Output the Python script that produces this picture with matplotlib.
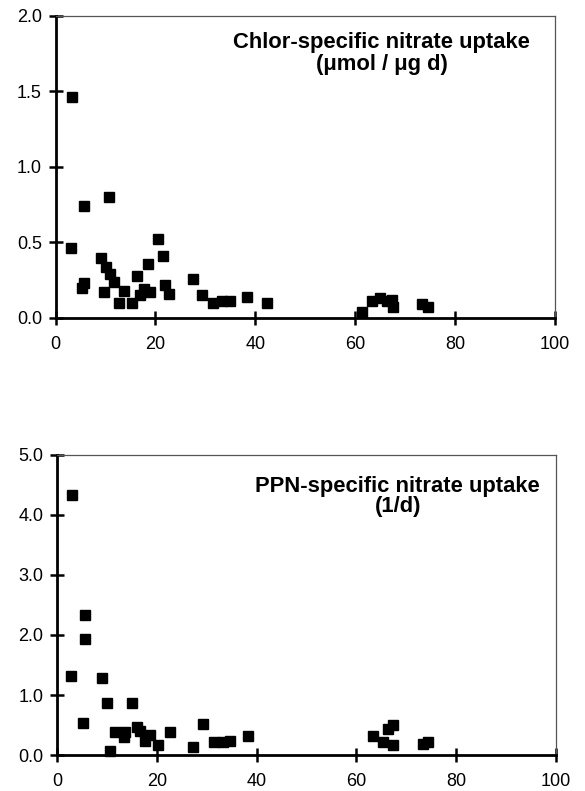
# Nitrate uptake scatter panels (chlor-specific and PPN-specific)

import numpy as np
import matplotlib.pyplot as plt

plt.rcParams['font.family'] = ['Liberation Sans', 'DejaVu Sans']

# Top panel data: chlor-specific nitrate uptake (umol / ug d)
chl_x = [3.2, 3.1, 5.8, 10.7, 5.4, 5.8, 9.2, 10.2, 9.7, 11.0, 11.8, 13.7, 12.8, 15.4,
         16.3, 16.9, 17.8, 18.5, 19.0, 20.5, 21.6, 21.9, 22.8, 27.5, 29.4, 31.5,
         33.3, 34.9, 38.3, 42.3, 61.3, 63.4, 65.0, 66.3, 67.5, 67.3, 73.3, 74.5]
chl_y = [1.46, 0.46, 0.74, 0.80, 0.20, 0.23, 0.40, 0.34, 0.17, 0.29, 0.24, 0.18, 0.10, 0.10,
         0.28, 0.15, 0.19, 0.36, 0.17, 0.52, 0.41, 0.22, 0.16, 0.26, 0.15, 0.10,
         0.11, 0.11, 0.14, 0.10, 0.04, 0.11, 0.13, 0.11, 0.07, 0.12, 0.09, 0.07]

# Bottom panel data: PPN-specific nitrate uptake (1/d)
ppn_x = [3.1, 2.9, 5.6, 5.6, 5.2, 9.0, 10.0, 10.7, 11.6, 13.6, 13.5, 15.1, 16.0, 16.7,
         17.6, 18.6, 20.3, 22.6, 27.3, 29.3, 31.5, 33.2, 34.6, 38.3,
         63.3, 65.4, 66.3, 67.3, 67.3, 73.4, 74.4]
ppn_y = [4.33, 1.31, 2.34, 1.94, 0.54, 1.29, 0.86, 0.07, 0.38, 0.38, 0.30, 0.86, 0.47, 0.40,
         0.24, 0.33, 0.16, 0.38, 0.14, 0.52, 0.21, 0.21, 0.24, 0.32,
         0.32, 0.22, 0.44, 0.50, 0.16, 0.19, 0.22]

fig = plt.figure(figsize=(5.85, 7.91), dpi=100)
ax1 = fig.add_axes([0.0949, 0.598, 0.854, 0.382])
ax2 = fig.add_axes([0.0974, 0.0455, 0.853, 0.3793])


def style(ax, ymax, yticks):
    ax.set_xlim(0, 100)
    ax.set_ylim(0, ymax)
    ax.set_xticks([0, 20, 40, 60, 80, 100])
    ax.set_yticks(yticks)
    ax.set_yticklabels(['{:.1f}'.format(t) for t in yticks])
    for s in ['left', 'bottom']:
        ax.spines[s].set_linewidth(2.0)
        ax.spines[s].set_color('black')
    for s in ['top', 'right']:
        ax.spines[s].set_linewidth(0.9)
        ax.spines[s].set_color('#555555')
    ax.tick_params(direction='inout', length=9.5, width=1.8, labelsize=13)
    ax.tick_params(axis='x', pad=8)
    ax.tick_params(axis='y', pad=5)


style(ax1, 2.0, [0.0, 0.5, 1.0, 1.5, 2.0])
ax1.plot(chl_x, chl_y, 's', color='black', ms=6.5, clip_on=False)
ax1.text(0.653, 0.893, 'Chlor-specific nitrate uptake', transform=ax1.transAxes,
         ha='center', va='baseline', fontsize=15.8, fontweight='bold')
ax1.text(0.653, 0.821, '(\u03bcmol / \u03bcg d)', transform=ax1.transAxes,
         ha='center', va='baseline', fontsize=15.8, fontweight='bold')

style(ax2, 5.0, [0.0, 1.0, 2.0, 3.0, 4.0, 5.0])
ax2.plot(ppn_x, ppn_y, 's', color='black', ms=6.5, clip_on=False)
ax2.text(0.683, 0.878, 'PPN-specific nitrate uptake', transform=ax2.transAxes,
         ha='center', va='baseline', fontsize=15.8, fontweight='bold')
ax2.text(0.683, 0.811, '(1/d)', transform=ax2.transAxes,
         ha='center', va='baseline', fontsize=15.8, fontweight='bold')

plt.savefig('out.png', dpi=100)
